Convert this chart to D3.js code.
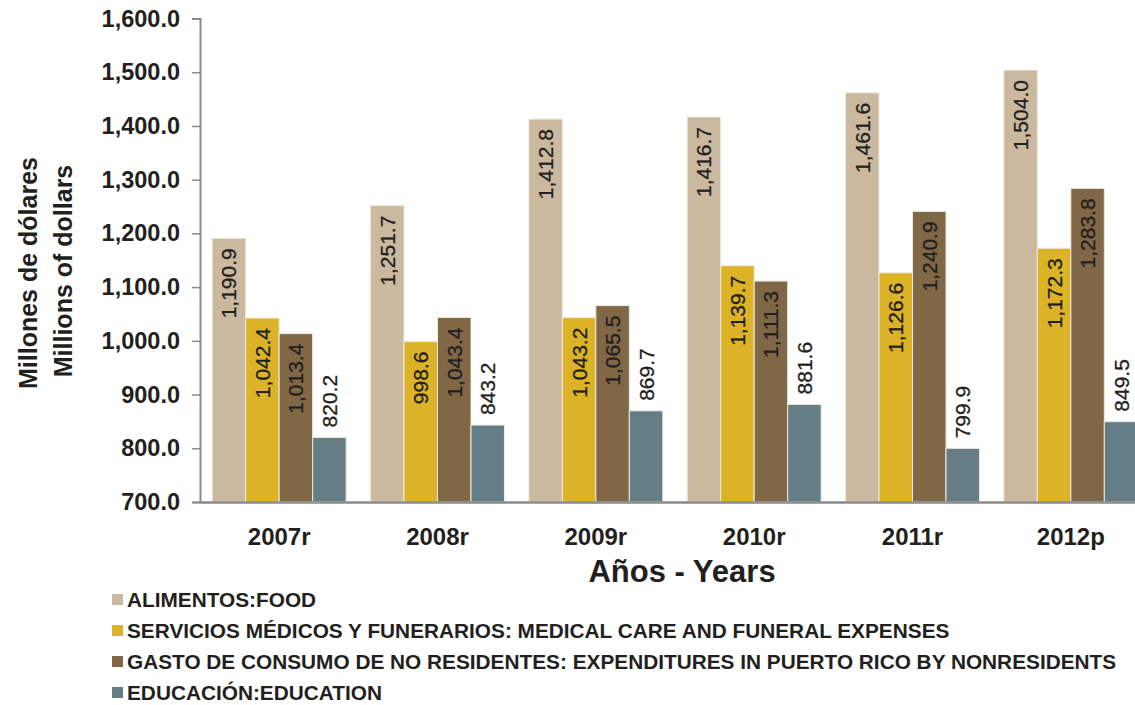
<!DOCTYPE html>
<html>
<head>
<meta charset="utf-8">
<script src="https://cdn.jsdelivr.net/npm/d3@7"></script>
<style>
  body { margin: 0; background: #fff; }
  svg { font-family: "Liberation Sans", Arial, sans-serif; }
  .tick text { font-weight: bold; fill: #231f20; }
  .barLabel { font-size: 21px; fill: #231f20; }
  .legendText { font-size: 20.8px; font-weight: bold; fill: #231f20; }
</style>
</head>
<body>
<svg id="chart-svg" width="1135" height="705"></svg>
<script>
////////////////////////////////////////////////////////////////////////////////
// data
var years = ["2007r", "2008r", "2009r", "2010r", "2011r", "2012p"];
var seriesNames = ["ALIMENTOS:FOOD",
                   "SERVICIOS MÉDICOS Y FUNERARIOS: MEDICAL CARE AND FUNERAL EXPENSES",
                   "GASTO DE CONSUMO DE NO RESIDENTES: EXPENDITURES IN PUERTO RICO BY NONRESIDENTS",
                   "EDUCACIÓN:EDUCATION"];
var food      = [1190.9, 1251.7, 1412.8, 1416.7, 1461.6, 1504.0];
var medical   = [1042.4, 998.6, 1043.2, 1139.7, 1126.6, 1172.3];
var nonres    = [1013.4, 1043.4, 1065.5, 1111.3, 1240.9, 1283.8];
var education = [820.2, 843.2, 869.7, 881.6, 799.9, 849.5];
var yTicks = [700, 800, 900, 1000, 1100, 1200, 1300, 1400, 1500, 1600];
var colors = ["#cab99f", "#dcb227", "#806746", "#657e85"];

////////////////////////////////////////////////////////////////////////////////
const svg = d3.select("#chart-svg");
var margin_left = 200, margin_top = 18.5, plot_right = 1150, plot_bottom = 502;
var allSeries = [food, medical, nonres, education];

var x0 = d3.scaleBand().domain(years).range([margin_left, plot_right]).paddingInner(0.154).paddingOuter(0.077);
var x1 = d3.scaleBand().domain(d3.range(4)).range([0, x0.bandwidth()]);
var y = d3.scaleLinear().domain([700, 1600]).range([plot_bottom, margin_top]);

// bars
var rows = [];
years.forEach(function(yr, i) {
  allSeries.forEach(function(s, j) { rows.push({ year: yr, k: j, v: s[i] }); });
});

svg.selectAll(".bar")
   .data(rows)
   .enter()
   .append("rect")
   .attr("class", "bar")
   .attr("x", function(d) { return x0(d.year) + x1(d.k); })
   .attr("width", x1.bandwidth())
   .attr("y", function(d) { return y(d.v); })
   .attr("height", function(d) { return y(700) - y(d.v); })
   .attr("fill", function(d) { return colors[d.k]; })
   .attr("stroke", "#efe9df")
   .attr("stroke-width", 1);

// value labels, rotated; education label sits above the bar
var fmt = d3.format(",.1f");
svg.selectAll(".barLabel")
   .data(rows)
   .enter()
   .append("text")
   .attr("class", "barLabel")
   .attr("transform", function(d) {
     var cx = x0(d.year) + x1(d.k) + x1.bandwidth()/2 + 7.5;
     var ty = d.k == 3 ? y(d.v) - 10 : y(d.v) + 10;
     return "translate(" + cx + "," + ty + ") rotate(-90)";
   })
   .attr("text-anchor", function(d) { return d.k == 3 ? "start" : "end"; })
   .attr("stroke", "#231f20").attr("stroke-width", 0.3)
   .text(function(d) { return fmt(d.v); });

// axes
var yAxis = svg.append("g")
   .attr("transform", "translate(" + margin_left + ",0)")
   .call(d3.axisLeft(y).tickValues(yTicks).tickFormat(d3.format(",.1f")).tickSize(8).tickPadding(12));
yAxis.selectAll("text").style("font-size", "23.5px");
yAxis.select(".domain").attr("stroke", "#8a8a8a").attr("stroke-width", 2);
yAxis.selectAll(".tick line").attr("stroke", "#8a8a8a").attr("stroke-width", 1.5);

var xAxis = svg.append("g")
   .attr("transform", "translate(0," + plot_bottom + ")")
   .call(d3.axisBottom(x0).tickSize(0).tickPadding(26));
xAxis.selectAll("text").style("font-size", "24px");
xAxis.select(".domain").attr("stroke", "#8a8a8a").attr("stroke-width", 2.5);

// axis titles
svg.append("text")
   .attr("transform", "translate(37,273) rotate(-90)")
   .attr("text-anchor", "middle")
   .style("font-size", "25px").style("font-weight", "bold").attr("fill", "#231f20")
   .text("Millones de dólares");
svg.append("text")
   .attr("transform", "translate(72,271) rotate(-90)")
   .attr("text-anchor", "middle")
   .style("font-size", "25px").style("font-weight", "bold").attr("fill", "#231f20")
   .text("Millions of dollars");
svg.append("text")
   .attr("x", 682).attr("y", 582)
   .attr("text-anchor", "middle")
   .style("font-size", "31px").style("font-weight", "bold").attr("fill", "#231f20")
   .text("Años - Years");

// legend
var legend = svg.selectAll(".legend")
   .data(seriesNames)
   .enter()
   .append("g")
   .attr("class", "legend")
   .attr("transform", function(d, i) { return "translate(112," + (600 + i*31) + ")"; });
legend.append("rect")
   .attr("x", 0).attr("y", -6).attr("width", 11).attr("height", 11)
   .attr("fill", function(d, i) { return colors[i]; });
legend.append("text")
   .attr("class", "legendText")
   .attr("x", 15).attr("y", 7)
   .text(function(d) { return d; });
</script>
</body>
</html>
